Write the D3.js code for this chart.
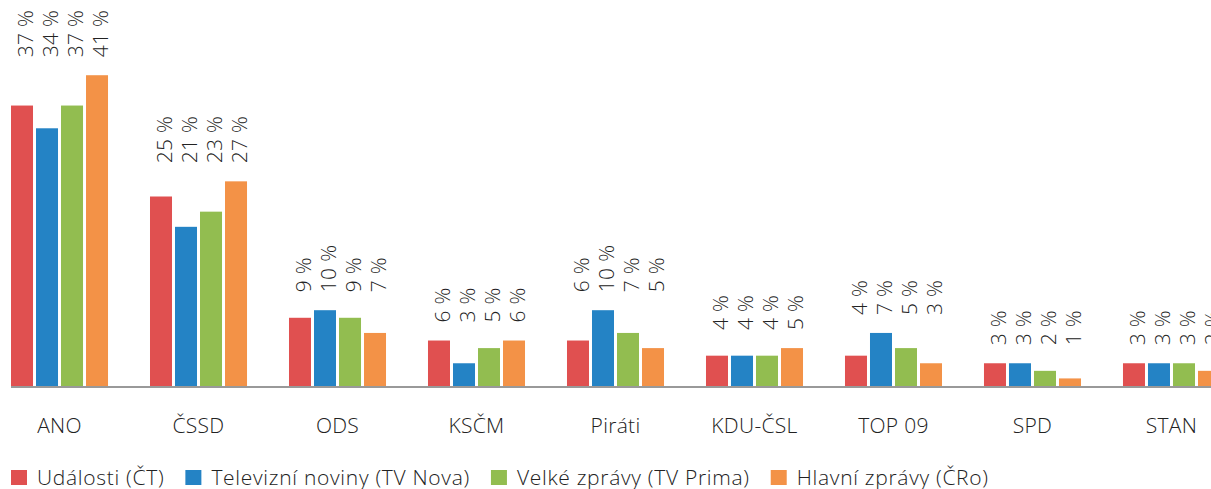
<!DOCTYPE html>
<html lang="cs">
<head>
    <meta charset="UTF-8">
    <title>Zpravodajské relace</title>
    <script src="https://d3js.org/d3.v7.min.js"></script>
    <style>
        body { margin: 0; background: #fff; }
        text { font-family: "Open Sans", sans-serif; font-weight: 300; fill: #222; letter-spacing: 0.3px; }
        .legend text { letter-spacing: 0.7px; }
    </style>
</head>
<body>
<div id="chart"></div>
<script>
    // data
    const categories = ["ANO", "ČSSD", "ODS", "KSČM", "Piráti", "KDU-ČSL", "TOP 09", "SPD", "STAN"];
    const seriesNames = ["Události (ČT)", "Televizní noviny (TV Nova)", "Velké zprávy (TV Prima)", "Hlavní zprávy (ČRo)"];
    const udalosti = [37, 25, 9, 6, 6, 4, 4, 3, 3];
    const televizniNoviny = [34, 21, 10, 3, 10, 4, 7, 3, 3];
    const velkeZpravy = [37, 23, 9, 5, 7, 4, 5, 2, 3];
    const hlavniZpravy = [41, 27, 7, 6, 5, 5, 3, 1, 2];
    const colors = ["#e05050", "#2483c5", "#92bd50", "#f39247"];

    const allSeries = [udalosti, televizniNoviny, velkeZpravy, hlavniZpravy];
    const rows = categories.map((c, i) => ({
        category: c,
        values: seriesNames.map((s, j) => ({ series: s, value: allSeries[j][i] }))
    }));

    const width = 1211, height = 489;
    const baseline = 386;

    const svg = d3.select("#chart").append("svg")
        .attr("width", width)
        .attr("height", height);

    const x0 = d3.scaleBand()
        .domain(categories)
        .range([11, 1220])
        .paddingInner(0.302)
        .paddingOuter(0);

    const x1 = d3.scaleBand()
        .domain(seriesNames)
        .range([0, x0.bandwidth()])
        .paddingInner(0.12)
        .paddingOuter(0);

    const y = d3.scaleLinear()
        .domain([0, 50])
        .range([baseline, baseline - 379]);

    const color = d3.scaleOrdinal().domain(seriesNames).range(colors);

    const groups = svg.selectAll(".group")
        .data(rows)
        .enter().append("g")
        .attr("class", "group")
        .attr("transform", d => `translate(${x0(d.category)},0)`);

    groups.selectAll("rect")
        .data(d => d.values)
        .enter().append("rect")
        .attr("x", d => x1(d.series))
        .attr("width", x1.bandwidth())
        .attr("y", d => y(d.value))
        .attr("height", d => baseline - y(d.value))
        .attr("fill", d => color(d.series));

    // value labels, rotated, aligned per group above the tallest bar
    groups.each(function (d) {
        const top = y(d3.max(d.values, v => v.value)) - 18;
        d3.select(this).selectAll(".val")
            .data(d.values)
            .enter().append("text")
            .attr("class", "val")
            .attr("transform", v => `translate(${x1(v.series) + x1.bandwidth() / 2 + 11},${top}) rotate(-90)`)
            .attr("font-size", 21)
            .text(v => v.value + " %");
    });

    // baseline
    svg.append("line")
        .attr("x1", x0.range()[0])
        .attr("x2", width)
        .attr("y1", baseline + 1)
        .attr("y2", baseline + 1)
        .attr("stroke", "#999")
        .attr("stroke-width", 2);

    // category labels
    svg.selectAll(".cat")
        .data(categories)
        .enter().append("text")
        .attr("class", "cat")
        .attr("x", d => x0(d) + x0.bandwidth() / 2)
        .attr("y", 433)
        .attr("text-anchor", "middle")
        .attr("font-size", 21)
        .text(d => d);

    // legend
    const legend = svg.append("g").attr("class", "legend").attr("transform", "translate(11,470)");
    let lx = 0;
    seriesNames.forEach((s, i) => {
        legend.append("rect")
            .attr("x", lx).attr("y", 0)
            .attr("width", 16).attr("height", 15)
            .attr("fill", colors[i]);
        const t = legend.append("text")
            .attr("x", lx + 26).attr("y", 15)
            .attr("font-size", 21)
            .text(s);
        lx += 26 + t.node().getComputedTextLength() + 21;
    });
</script>
</body>
</html>
